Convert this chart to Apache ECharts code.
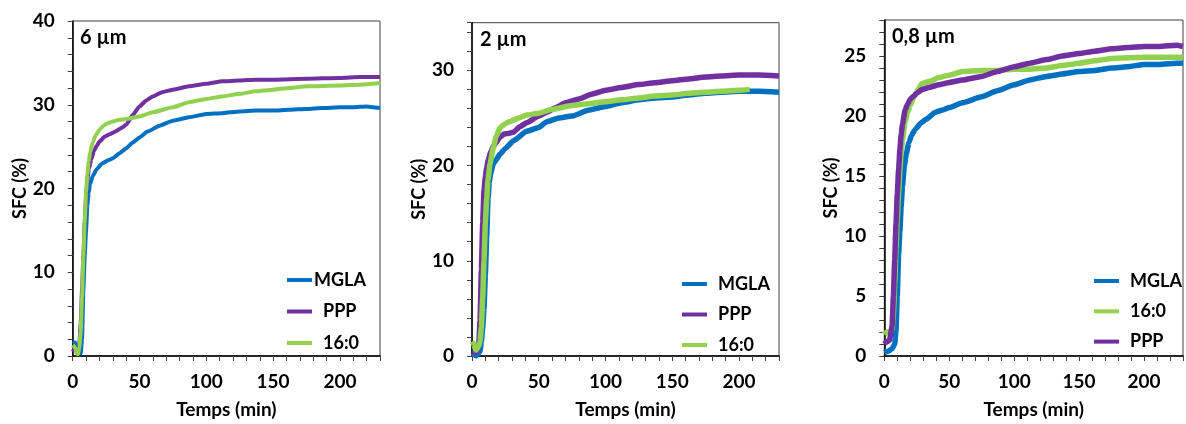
<!DOCTYPE html>
<html><head><meta charset="utf-8">
<script src="https://cdn.jsdelivr.net/npm/echarts@6/dist/echarts.min.js"></script>
<style>html,body{margin:0;padding:0;background:#fff}#c{width:1186px;height:424px}</style>
</head><body><div id="c"></div>
<script>
// ---- Panel 1 : 6 µm ----
const p1_mgla_t = [0, 2, 4, 6, 7, 8, 9, 10, 11, 12, 13, 15, 18, 22, 27, 30, 35, 40, 45, 50, 56, 65, 75, 87, 100, 112, 125, 137, 150, 162, 175, 187, 200, 210, 220, 230];
const p1_mgla_v = [1.5, 1.6, 0.8, 0.3, 2, 8, 12, 15, 18, 19.5, 20.5, 21.5, 22.3, 23.0, 23.4, 23.6, 24.2, 24.8, 25.5, 26.1, 26.8, 27.5, 28.1, 28.5, 28.9, 29.0, 29.2, 29.3, 29.3, 29.4, 29.5, 29.6, 29.7, 29.7, 29.8, 29.6];
const p1_ppp_t = [0, 2, 4, 5, 6, 7, 8, 9, 10, 11, 12, 14, 16, 18, 20, 24, 28, 32, 36, 40, 45, 50, 55, 60, 67, 75, 87, 100, 112, 125, 137, 150, 175, 200, 215, 230];
const p1_ppp_v = [0.5, 1.0, 0.8, 1.5, 4, 8, 12, 16, 19, 21, 22.3, 23.5, 24.5, 25.1, 25.6, 26.2, 26.5, 26.8, 27.2, 27.6, 28.8, 29.8, 30.5, 31.0, 31.5, 31.8, 32.2, 32.5, 32.8, 32.9, 33.0, 33.0, 33.1, 33.2, 33.3, 33.3];
const p1_160_t = [0, 2, 3, 4, 5, 6, 7, 8, 9, 10, 11, 12, 13, 15, 17, 20, 23, 26, 30, 35, 40, 50, 60, 75, 87, 100, 112, 125, 137, 150, 162, 175, 200, 215, 230];
const p1_160_v = [1.3, 1.0, 0.3, 0.2, 1, 3, 7, 11.8, 16, 19.5, 21.8, 23.2, 24.3, 25.5, 26.3, 27.0, 27.5, 27.8, 28.0, 28.2, 28.3, 28.6, 29.1, 29.7, 30.3, 30.7, 31.0, 31.3, 31.6, 31.8, 32.0, 32.2, 32.3, 32.4, 32.6];

// ---- Panel 2 : 2 µm ----
const p2_mgla_t = [0, 2, 3, 5, 6, 7, 8, 9, 10, 11, 12, 13, 14, 16, 18, 21, 25, 31, 41, 50, 56, 65, 75, 87, 100, 112, 125, 137, 150, 162, 175, 187, 200, 215, 230];
const p2_mgla_v = [0.3, 0.2, 0.0, 0.3, 0.5, 1.5, 3, 5, 8.5, 12.5, 16.5, 18.3, 19.2, 20.2, 20.6, 21.2, 21.8, 22.6, 23.6, 24.0, 24.6, 25.0, 25.2, 25.8, 26.2, 26.6, 26.9, 27.1, 27.2, 27.4, 27.6, 27.7, 27.8, 27.8, 27.7];
const p2_ppp_t = [0, 3, 5, 6, 7, 8, 9, 10, 11, 12, 14, 16, 18, 21, 24, 28, 31, 36, 41, 50, 56, 63, 70, 80, 90, 100, 112, 125, 137, 150, 162, 175, 187, 200, 215, 230];
const p2_ppp_v = [0.5, 0.4, 1.0, 3.6, 9, 14, 17.4, 18.8, 19.8, 20.5, 21.4, 22.0, 22.4, 23.0, 23.3, 23.4, 23.5, 24.1, 24.5, 25.2, 25.6, 26.1, 26.6, 27.0, 27.5, 27.9, 28.2, 28.5, 28.7, 28.9, 29.1, 29.3, 29.4, 29.5, 29.5, 29.4];
const p2_160_t = [0, 1, 3, 5, 6, 7, 8, 9, 10, 11, 12, 13.5, 16, 18, 21, 25, 28, 35, 41, 50, 60, 75, 87, 100, 112, 125, 137, 150, 162, 175, 187, 200, 208];
const p2_160_v = [1.5, 1.3, 0.6, 1.0, 1.5, 3, 6, 10, 14, 16.5, 18.5, 20.2, 21.9, 23.0, 24.0, 24.4, 24.6, 25.0, 25.3, 25.5, 25.9, 26.3, 26.5, 26.7, 26.9, 27.1, 27.3, 27.4, 27.6, 27.7, 27.8, 27.9, 28.0];

// ---- Panel 3 : 0,8 µm ----
const p3_mgla_t = [0, 3, 6, 8, 9, 10, 11, 12, 13, 14, 15.5, 17, 19, 21, 24, 28, 32, 39, 45, 50, 60, 75, 87, 100, 112, 125, 137, 150, 162, 175, 187, 200, 212, 225, 230];
const p3_mgla_v = [0.3, 0.4, 0.6, 1.0, 2.1, 5, 8.5, 10.4, 12.5, 14.2, 15.9, 16.9, 17.8, 18.4, 18.9, 19.4, 19.7, 20.3, 20.5, 20.7, 21.1, 21.6, 22.1, 22.6, 23.0, 23.3, 23.5, 23.7, 23.8, 24.0, 24.1, 24.3, 24.3, 24.4, 24.4];
const p3_160_t = [0, 2, 4, 6, 7, 8, 9, 10, 11, 12, 13, 14, 16, 18, 20, 23, 26, 29, 35, 42, 50, 60, 75, 87, 100, 112, 125, 137, 150, 162, 175, 200, 225, 230];
const p3_160_v = [1.8, 2.0, 2.0, 2.2, 3.5, 6, 9, 11.5, 13.5, 15.5, 17.0, 18.0, 19.5, 20.3, 20.9, 21.6, 22.2, 22.7, 22.9, 23.2, 23.4, 23.7, 23.8, 23.8, 23.9, 23.9, 24.0, 24.2, 24.4, 24.6, 24.8, 24.9, 24.9, 24.9];
const p3_ppp_t = [0, 2, 4, 6, 7, 8, 9, 10, 11, 12, 13, 14, 16, 18, 20, 22, 25, 29, 35, 42, 50, 60, 75, 87, 100, 112, 125, 137, 150, 162, 175, 187, 200, 212, 225, 230];
const p3_ppp_v = [1.0, 1.2, 1.3, 2.5, 5, 8, 11, 13.5, 15.5, 17.2, 18.5, 19.3, 20.5, 21.0, 21.4, 21.6, 21.9, 22.2, 22.4, 22.6, 22.8, 23.0, 23.3, 23.7, 24.1, 24.4, 24.7, 25.0, 25.2, 25.4, 25.6, 25.7, 25.8, 25.8, 25.9, 25.8];

const panelTitles = ['6 µm', '2 µm', '0,8 µm'];
const yMax = [40, 35, 28];
const yStep = [2, 2, 1];
const yLabelEvery = [10, 10, 5];
const xMax = 230;
const xLabelEvery = 50;

const COL = {MGLA: '#0070C0', PPP: '#7030A0', '16:0': '#92D050'};
const FONT = 'Lato';

function zip(t, v) { return t.map((x, i) => [x, v[i]]); }

const grids = [
  {left: 72.7, top: 21, width: 307.3, height: 339.7},
  {left: 472, top: 22.7, width: 307, height: 339.6},
  {left: 884.3, top: 20, width: 306.7, height: 339.3}
];

const xAxes = grids.map((g, i) => ({
  type: 'value', gridIndex: i, min: 0, max: xMax, interval: 10,
  name: 'Temps (min)', nameLocation: 'middle', nameGap: 44,
  nameTextStyle: {fontFamily: FONT, fontWeight: 'bold', fontSize: 19, color: '#000'},
  axisLine: {lineStyle: {color: '#000', width: 1.5}},
  axisTick: {length: 5, lineStyle: {color: '#404040', width: 1}},
  axisLabel: {margin: 16, fontFamily: FONT, fontWeight: 'bold', fontSize: 19, color: '#000',
    formatter: v => (v % xLabelEvery === 0 && v <= 200) ? String(v) : ''},
  splitLine: {show: false}
}));

const yAxes = grids.map((g, i) => ({
  type: 'value', gridIndex: i, min: 0, max: yMax[i], interval: yStep[i],
  name: 'SFC (%)', nameLocation: 'middle', nameGap: 43,
  nameTextStyle: {fontFamily: FONT, fontWeight: 'bold', fontSize: 18, color: '#000'},
  axisLine: {lineStyle: {color: '#000', width: 1.5}},
  axisTick: {length: 5, lineStyle: {color: '#404040', width: 1}},
  axisLabel: {margin: 18, fontFamily: FONT, fontWeight: 'bold', fontSize: 19, color: '#000',
    formatter: v => (v % yLabelEvery[i] === 0) ? String(v) : ''},
  splitLine: {show: false}
}));

function ser(name, t, v, idx, w) {
  return {type: 'line', name, xAxisIndex: idx, yAxisIndex: idx, data: zip(t, v),
    showSymbol: false, symbol: 'none', smooth: 0.15, smoothMonotone: 'x',
    lineStyle: {color: COL[name], width: w}, itemStyle: {color: COL[name]}};
}

const series = [
  ser('MGLA', p1_mgla_t, p1_mgla_v, 0, 4),
  ser('PPP', p1_ppp_t, p1_ppp_v, 0, 4),
  ser('16:0', p1_160_t, p1_160_v, 0, 4),
  ser('MGLA', p2_mgla_t, p2_mgla_v, 1, 5.5),
  ser('PPP', p2_ppp_t, p2_ppp_v, 1, 5.5),
  ser('16:0', p2_160_t, p2_160_v, 1, 5.5),
  ser('MGLA', p3_mgla_t, p3_mgla_v, 2, 5.5),
  ser('16:0', p3_160_t, p3_160_v, 2, 5.5),
  ser('PPP', p3_ppp_t, p3_ppp_v, 2, 5.5)
];

const legendText = {fontFamily: FONT, fontWeight: 'bold', fontSize: 18, color: '#000', lineHeight: 20};
const legendCommon = {orient: 'vertical', icon: 'rect', itemWidth: 25, itemHeight: 4, padding: 0,
  selectedMode: false};
const legends = [
  Object.assign({}, legendCommon, {left: 287, top: 270, itemGap: 11.5,
    data: [{name: 'MGLA', textStyle: {padding: [0, 0, 0, -3]}},
           {name: 'PPP', textStyle: {padding: [0, 0, 0, 6]}},
           {name: '16:0', textStyle: {padding: [0, 0, 0, 6]}}],
    textStyle: legendText}),
  Object.assign({}, legendCommon, {left: 682, top: 274, itemGap: 10.5, data: ['MGLA', 'PPP', '16:0'],
    textStyle: Object.assign({padding: [0, 0, 0, 6]}, legendText)}),
  Object.assign({}, legendCommon, {left: 1094, top: 271, itemGap: 10.3, data: ['MGLA', '16:0', 'PPP'],
    textStyle: Object.assign({padding: [0, 0, 0, 6]}, legendText)})
];

const titlePos = [{left: 80, top: 28}, {left: 480, top: 30}, {left: 892, top: 27}];
const titles = panelTitles.map((t, i) => ({text: t, left: titlePos[i].left, top: titlePos[i].top, padding: 0,
  textStyle: {fontFamily: FONT, fontWeight: 'bold', fontSize: 20, color: '#000'}}));

const chart = echarts.init(document.getElementById('c'), null, {renderer: 'canvas'});
chart.setOption({
  animation: false,
  backgroundColor: '#fff',
  title: titles,
  legend: legends,
  grid: grids.map(g => Object.assign({show: true, borderColor: '#404040', borderWidth: 1, backgroundColor: 'transparent'}, g)),
  xAxis: xAxes,
  yAxis: yAxes,
  series
});
</script></body></html>
